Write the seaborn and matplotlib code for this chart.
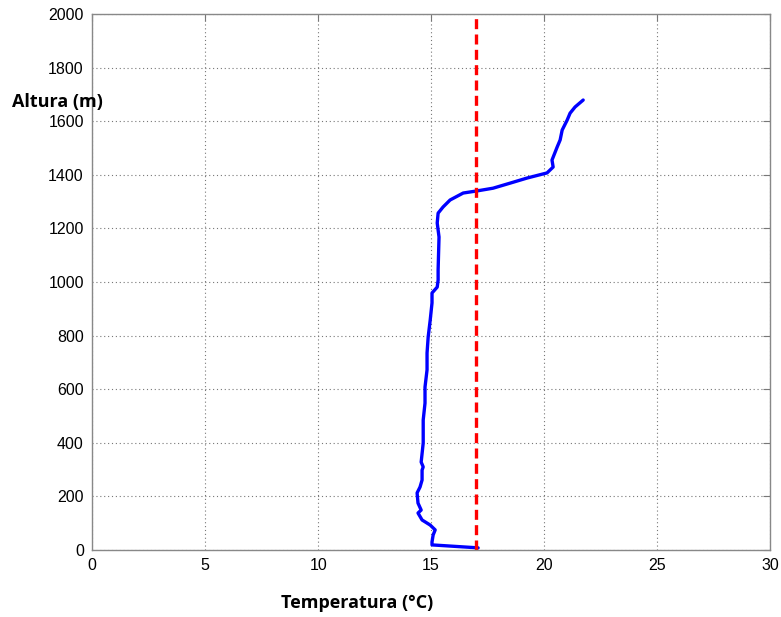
import matplotlib
matplotlib.use("Agg")
import matplotlib.pyplot as plt
import seaborn as sns
import pandas as pd

temperature = [17.08, 15.04, 15.04, 15.09, 15.18, 14.96, 14.60, 14.42, 14.56, 14.42, 14.38, 14.51,
               14.60, 14.60, 14.65, 14.56, 14.65, 14.65, 14.73, 14.73, 14.82, 14.82, 14.87, 14.96,
               15.04, 15.04, 15.27, 15.31, 15.31, 15.35, 15.27, 15.31, 15.53, 15.84, 16.42, 17.04,
               17.74, 18.50, 19.25, 20.13, 20.40, 20.35, 20.58, 20.71, 20.80, 21.02, 21.15, 21.37, 21.73]
altitude = [8, 19, 30, 56, 75, 93, 112, 138, 149, 175, 213, 235,
            261, 298, 310, 328, 399, 485, 548, 608, 672, 735, 795, 858,
            922, 959, 981, 1007, 1045, 1168, 1220, 1257, 1280, 1306, 1332, 1340,
            1350, 1369, 1388, 1407, 1429, 1455, 1504, 1530, 1567, 1604, 1630, 1653, 1679]
threshold_temp = [17.0, 17.0]
threshold_alt = [0, 2000]
x_ticks = [0, 5, 10, 15, 20, 25, 30]
y_ticks = [0, 200, 400, 600, 800, 1000, 1200, 1400, 1600, 1800, 2000]

sns.set_style("white")
plt.rcParams['font.family'] = ['Liberation Sans', 'DejaVu Sans']
plt.rcParams['text.color'] = 'black'

fig = plt.figure(figsize=(7.81, 6.17), dpi=100)
ax = fig.add_axes([0.118, 0.1086, 0.868, 0.8687])

df = pd.DataFrame({"T": temperature, "h": altitude})
sns.lineplot(data=df, x="T", y="h", sort=False, estimator=None, color="#0000ff",
             linewidth=2.4, ax=ax)
sns.lineplot(x=threshold_temp, y=threshold_alt, sort=False, estimator=None, color="#ff0000",
             linewidth=2.4, ax=ax, linestyle=(0, (3, 1.6)))

ax.set_xlim(0, 30)
ax.set_ylim(0, 2000)
ax.set_xticks(x_ticks)
ax.set_yticks(y_ticks)
ax.grid(True, linestyle=(0, (1, 2.5)), color="#777777", linewidth=0.8)
ax.tick_params(direction="in", length=5, color="#777777", labelsize=11.5, labelcolor="black",
               top=True, right=True, pad=6)
for s in ax.spines.values():
    s.set_color("#888888")
    s.set_linewidth(1.0)
ax.set_xlabel("")
ax.set_ylabel("")

fig.text(0.015, 0.834, "Altura (m)", fontsize=13, fontweight="bold", color="black",
         family=["Open Sans", "DejaVu Sans"], ha="left", va="center")
fig.text(0.457, 0.022, "Temperatura (°C)", fontsize=13, fontweight="bold", color="black",
         family=["Open Sans", "DejaVu Sans"], ha="center", va="center")

fig.savefig("out.png", dpi=100)
